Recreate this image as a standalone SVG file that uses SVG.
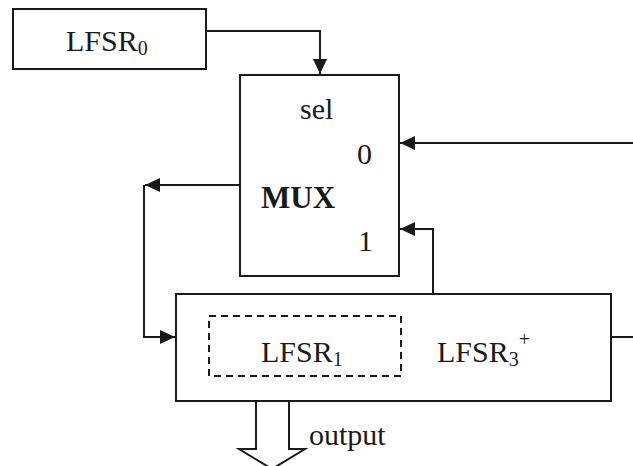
<svg xmlns="http://www.w3.org/2000/svg" width="633" height="466" viewBox="0 0 633 466">
<style>
.box{fill:#fff;stroke:#1a1a1a;stroke-width:2}
.dash{fill:none;stroke:#1a1a1a;stroke-width:2;stroke-dasharray:7,5}
.wire{fill:none;stroke:#1a1a1a;stroke-width:2}
text{font-family:"Liberation Serif","Times New Roman",serif;fill:#1a1a1a}
.t{font-size:30px}
.b{font-size:31px;font-weight:bold}
.sub{font-size:20px}
</style>
<defs>
<marker id="ah" markerUnits="userSpaceOnUse" markerWidth="16" markerHeight="14" viewBox="0 0 16 14" refX="15" refY="7" orient="auto">
<path d="M0,0 L15,7 L0,14 z" fill="#1a1a1a"/>
</marker>
</defs>
<rect width="633" height="466" fill="#fff"/>
<g id="connectors">
<path class="wire" d="M206,31 H320 V74" marker-end="url(#ah)"/>
<path class="wire" d="M633,143 H400" marker-end="url(#ah)"/>
<path class="wire" d="M433,294 V229 H400" marker-end="url(#ah)"/>
<path class="wire" d="M240,185 H145" marker-end="url(#ah)"/>
<path class="wire" d="M144,185 V337 H175" marker-end="url(#ah)"/>
<path class="wire" d="M611,337 H633"/>
<path class="box" d="M256,401 V449 H239 L272,469 L305,449 H289 V401"/>
</g>
<g id="lfsr0">
<rect class="box" x="13" y="9" width="193" height="60"/>
<text class="t" x="66" y="51">LFSR<tspan class="sub" dy="4">0</tspan></text>
</g>
<g id="mux">
<rect class="box" x="240" y="75" width="159" height="201"/>
<text class="t" x="300" y="119">sel</text>
<text class="t" x="357" y="164">0</text>
<text class="b" x="261" y="208">MUX</text>
<text class="t" x="358" y="251">1</text>
</g>
<g id="lfsr3">
<rect class="box" x="176" y="294" width="435" height="107"/>
<rect class="dash" x="209" y="316" width="192" height="60"/>
<text class="t" x="261" y="362">LFSR<tspan class="sub" dy="4">1</tspan></text>
<text class="t" x="437" y="362">LFSR<tspan class="sub" dy="4">3</tspan><tspan class="sub" dy="-20">+</tspan></text>
</g>
<g id="output">
<text class="t" x="309" y="445">output</text>
</g>
</svg>
